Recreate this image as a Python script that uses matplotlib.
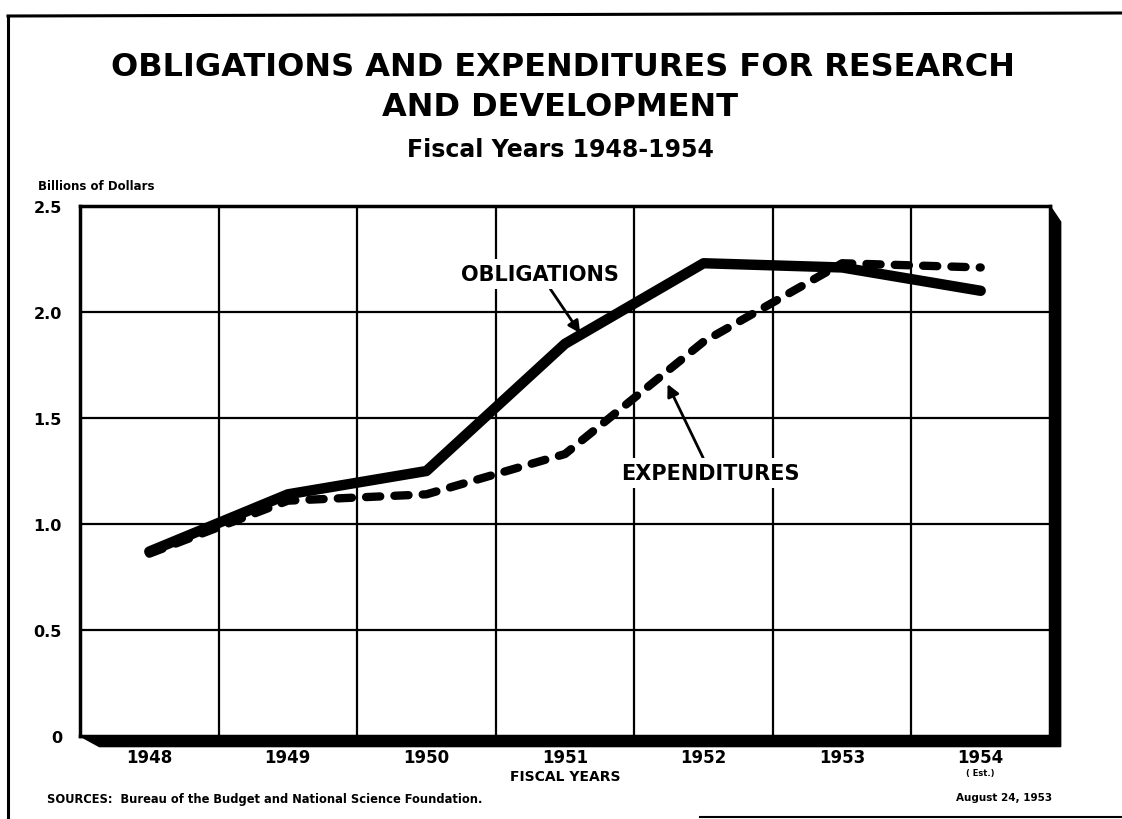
import matplotlib
matplotlib.use("Agg")
import matplotlib.pyplot as plt
from matplotlib.patches import Polygon
from matplotlib.lines import Line2D

# values (billions of dollars)
years = ["1948", "1949", "1950", "1951", "1952", "1953", "1954"]
obligations = [0.87, 1.14, 1.25, 1.85, 2.23, 2.21, 2.10]
expenditures = [0.86, 1.11, 1.14, 1.33, 1.86, 2.23, 2.21]
y_ticks = [0, 0.5, 1.0, 1.5, 2.0, 2.5]
y_tick_labels = ["0", "0.5", "1.0", "1.5", "2.0", "2.5"]

plt.rcParams['font.family'] = ['DejaVu Sans']
plt.rcParams['font.weight'] = 'bold'

W, H = 1122, 820
fig = plt.figure(figsize=(W / 100, H / 100), dpi=100)
fig.patch.set_facecolor("white")

# plot area in pixels: left 80, right 1050, top 207, bottom 737
ax = fig.add_axes([80 / W, 1 - 737 / H, 970 / W, 530 / H])
x = list(range(len(years)))

ax.set_xlim(-0.5, len(years) - 0.5)
ax.set_ylim(0, 2.5)

# grid
for yv in y_ticks[1:-1]:
    ax.axhline(yv, color="black", lw=1.6, zorder=1)
for i in range(len(years) - 1):
    ax.axvline(i + 0.5, color="black", lw=1.6, zorder=1)

ax.plot(x, obligations, color="black", lw=7.5, solid_capstyle="round",
        solid_joinstyle="round", zorder=3)
ax.plot(x, expenditures, color="black", lw=6, linestyle=(0, (1.7, 1.7)),
        dash_capstyle="round", zorder=4)

for s in ax.spines.values():
    s.set_linewidth(2.5)
    s.set_color("black")

# heavy shadow along bottom and right edges
dx, dy = 0.011, 0.02
shadow = Polygon([(0.0, 0.0), (1.0, 0.0), (1.0, 1.0), (1.0 + dx, 1.0 - 0.03),
                  (1.0 + dx, -dy), (0.02, -dy)],
                 closed=True, transform=ax.transAxes, facecolor="black",
                 edgecolor="black", clip_on=False, zorder=5)
ax.add_patch(shadow)

ax.set_yticks(y_ticks)
ax.set_yticklabels(y_tick_labels, fontsize=11.5, fontweight="bold")
ax.set_xticks(x)
ax.set_xticklabels(years, fontsize=12, fontweight="bold")
ax.tick_params(axis="both", length=0)
ax.tick_params(axis="y", pad=13)
ax.tick_params(axis="x", pad=8.5)

xt = ax.get_xaxis_transform()
ax.text(6, -(774 - 737) / 530, "( Est.)", ha="center", va="center", fontsize=6,
        fontweight="bold", transform=xt, clip_on=False)
ax.text(3.0, -(777 - 737) / 530, "FISCAL YEARS", ha="center", va="center",
        fontsize=10, fontweight="bold", transform=xt, clip_on=False)

# line labels with arrows
ax.annotate("OBLIGATIONS", xy=(3.11, 1.90), xytext=(2.82, 2.18),
            ha="center", va="center", fontsize=15, fontweight="bold",
            bbox=dict(boxstyle="square,pad=0.25", fc="white", ec="none"),
            arrowprops=dict(arrowstyle="-|>", color="black", lw=2,
                            mutation_scale=18, shrinkA=0, shrinkB=0),
            zorder=6)
ax.annotate("EXPENDITURES", xy=(3.74, 1.66), xytext=(4.05, 1.24),
            ha="center", va="center", fontsize=15, fontweight="bold",
            bbox=dict(boxstyle="square,pad=0.25", fc="white", ec="none"),
            arrowprops=dict(arrowstyle="-|>", color="black", lw=2,
                            mutation_scale=18, shrinkA=0, shrinkB=0),
            zorder=6)

# titles
fig.text(563 / W, 1 - 68 / H, "OBLIGATIONS AND EXPENDITURES FOR RESEARCH",
         ha="center", va="center", fontsize=23, fontweight="bold")
fig.text(560 / W, 1 - 108 / H, "AND DEVELOPMENT",
         ha="center", va="center", fontsize=23, fontweight="bold")
fig.text(560 / W, 1 - 150 / H, "Fiscal Years 1948-1954",
         ha="center", va="center", fontsize=17, fontweight="bold")
fig.text(38 / W, 1 - 187 / H, "Billions of Dollars",
         ha="left", va="center", fontsize=8.5, fontweight="bold")

fig.text(47 / W, 1 - 800 / H,
         "SOURCES:  Bureau of the Budget and National Science Foundation.",
         ha="left", va="center", fontsize=8.3, fontweight="bold")
fig.text(1052 / W, 1 - 798 / H, "August 24, 1953",
         ha="right", va="center", fontsize=7.5, fontweight="bold")

# page frame
fig.add_artist(Line2D([8 / W, 1.0], [1 - 17 / H, 1 - 14 / H], color="black", lw=2.2))
fig.add_artist(Line2D([8 / W, 8 / W], [1 - 17 / H, 0.0], color="black", lw=2.2))
fig.add_artist(Line2D([700 / W, 1.0], [1 - 818 / H, 1 - 818 / H], color="black", lw=1.5))

fig.savefig("out.png", dpi=100, facecolor="white")
